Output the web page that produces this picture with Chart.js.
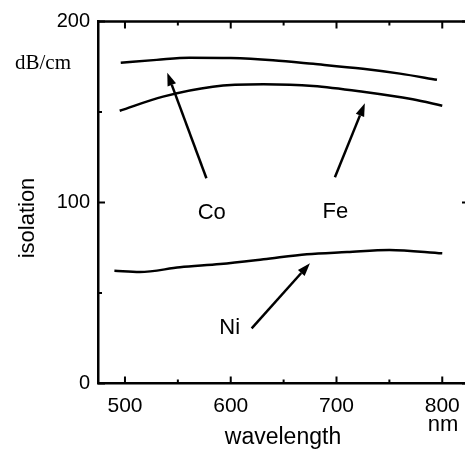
<!DOCTYPE html>
<html>
<head>
<meta charset="utf-8">
<script src="https://cdn.jsdelivr.net/npm/chart.js@4/dist/chart.umd.min.js"></script>
<style>
html,body{margin:0;padding:0;background:#fff;}
#wrap{width:465px;height:449px;position:relative;}
</style>
</head>
<body>
<div id="wrap"><canvas id="c" width="465" height="449"></canvas></div>
<script>
// Data
const coX = [496, 530, 561, 600, 640, 678, 725, 760, 795];
const coY = [177.2, 178.8, 180.0, 179.8, 178.6, 176.6, 173.9, 171.2, 167.8];
const feX = [495, 536, 583, 631, 678, 725, 772, 800];
const feY = [150.7, 158.5, 164.0, 165.3, 164.4, 161.2, 157.0, 153.5];
const niX = [490, 514, 552, 590, 631, 672, 710, 750, 800];
const niY = [62.3, 61.6, 64.2, 66.0, 68.6, 71.4, 72.6, 73.8, 71.9];
const xTicks = [500, 600, 700, 800];
const xMinor = [550, 650, 750];
const yTicks = [0, 100, 200];
const yMinor = [50, 150];
// annotations: label position and arrow (from -> tip), in data units
const labels = [
  {text: 'Co', x: 582, y: 94, from: [577, 113.4], to: [540, 171.7]},
  {text: 'Fe', x: 699, y: 95, from: [698.5, 113.9], to: [726.8, 154.8]},
  {text: 'Ni', x: 599, y: 30.5, from: [619.8, 30.5], to: [674.9, 66.4]}
];

const toPts = (xs, ys) => xs.map((x, i) => ({x: x, y: ys[i]}));
const SANS = '"Liberation Sans", Arial, Helvetica, sans-serif';

const decor = {
  id: 'decor',
  afterDraw(chart) {
    const ctx = chart.ctx, xs = chart.scales.x, ys = chart.scales.y, a = chart.chartArea;
    ctx.save();
    ctx.strokeStyle = '#000';
    ctx.fillStyle = '#000';
    ctx.lineWidth = 2.5;
    // top frame line
    ctx.beginPath();
    ctx.moveTo(a.left, a.top); ctx.lineTo(a.right, a.top);
    ctx.stroke();
    // inward ticks
    ctx.lineWidth = 2;
    ctx.beginPath();
    xTicks.forEach(v => { const p = xs.getPixelForValue(v);
      ctx.moveTo(p, a.bottom); ctx.lineTo(p, a.bottom - 7);
      ctx.moveTo(p, a.top); ctx.lineTo(p, a.top + 7); });
    xMinor.forEach(v => { const p = xs.getPixelForValue(v);
      ctx.moveTo(p, a.bottom); ctx.lineTo(p, a.bottom - 4);
      ctx.moveTo(p, a.top); ctx.lineTo(p, a.top + 4); });
    yTicks.forEach(v => { const p = ys.getPixelForValue(v);
      ctx.moveTo(a.left, p); ctx.lineTo(a.left + 7, p);
      ctx.moveTo(a.right + 3, p); ctx.lineTo(a.right - 3, p); });
    yMinor.forEach(v => { const p = ys.getPixelForValue(v);
      ctx.moveTo(a.left, p); ctx.lineTo(a.left + 4, p); });
    ctx.stroke();
    // arrows
    labels.forEach(l => {
      const x1 = xs.getPixelForValue(l.from[0]), y1 = ys.getPixelForValue(l.from[1]);
      const x2 = xs.getPixelForValue(l.to[0]), y2 = ys.getPixelForValue(l.to[1]);
      const ang = Math.atan2(y2 - y1, x2 - x1);
      const hl = 13, hw = 4.5;
      const bx = x2 - hl * Math.cos(ang), by = y2 - hl * Math.sin(ang);
      ctx.lineWidth = 2.5;
      ctx.beginPath(); ctx.moveTo(x1, y1); ctx.lineTo(bx, by); ctx.stroke();
      ctx.beginPath();
      ctx.moveTo(x2, y2);
      ctx.lineTo(bx + hw * Math.sin(ang), by - hw * Math.cos(ang));
      ctx.lineTo(bx - hw * Math.sin(ang), by + hw * Math.cos(ang));
      ctx.closePath(); ctx.fill();
      ctx.font = '22px ' + SANS;
      ctx.textAlign = 'center'; ctx.textBaseline = 'middle';
      ctx.fillText(l.text, xs.getPixelForValue(l.x), ys.getPixelForValue(l.y));
    });
    // unit labels and axis titles
    ctx.font = '21px "Liberation Serif", "Times New Roman", serif';
    ctx.textAlign = 'center'; ctx.textBaseline = 'middle';
    ctx.fillText('dB/cm', 43, 63);
    ctx.font = '22px ' + SANS;
    ctx.fillText('nm', 443, 425);
    ctx.font = '23px ' + SANS;
    ctx.fillText('wavelength', 283, 438);
    ctx.save();
    ctx.translate(28, 218);
    ctx.rotate(-Math.PI / 2);
    ctx.font = '22px ' + SANS;
    ctx.fillText('isolation', 0, 0);
    ctx.restore();
    ctx.restore();
  }
};

const lineDs = (label, data) => ({
  label: label, data: data, borderColor: '#000', borderWidth: 2.5,
  pointRadius: 0, tension: 0.4, fill: false, cubicInterpolationMode: 'monotone'
});

new Chart(document.getElementById('c'), {
  type: 'line',
  data: {
    datasets: [
      lineDs('Co', toPts(coX, coY)),
      lineDs('Fe', toPts(feX, feY)),
      lineDs('Ni', toPts(niX, niY))
    ]
  },
  options: {
    responsive: false,
    animation: false,
    layout: {padding: {top: 21.5, right: 0, left: 0, bottom: 0}},
    plugins: {legend: {display: false}, tooltip: {enabled: false}},
    scales: {
      x: {
        type: 'linear', min: 474.5, max: 821.5,
        afterBuildTicks: s => { s.ticks = xTicks.map(v => ({value: v})); },
        afterFit: s => { s.height = 449 - 383.5; s.paddingLeft = 0; s.paddingRight = 0; },
        grid: {display: false, drawTicks: false},
        border: {display: true, color: '#000', width: 2.5},
        ticks: {color: '#000', font: {family: SANS, size: 21}, padding: 10, maxRotation: 0}
      },
      y: {
        type: 'linear', min: 0, max: 200,
        afterBuildTicks: s => { s.ticks = yTicks.map(v => ({value: v})); },
        afterFit: s => { s.width = 98; s.paddingTop = 0; s.paddingBottom = 0; },
        grid: {display: false, drawTicks: false},
        border: {display: true, color: '#000', width: 2.5},
        ticks: {color: '#000', font: {family: SANS, size: 20}, padding: 8}
      }
    }
  },
  plugins: [decor]
});
</script>
</body>
</html>
